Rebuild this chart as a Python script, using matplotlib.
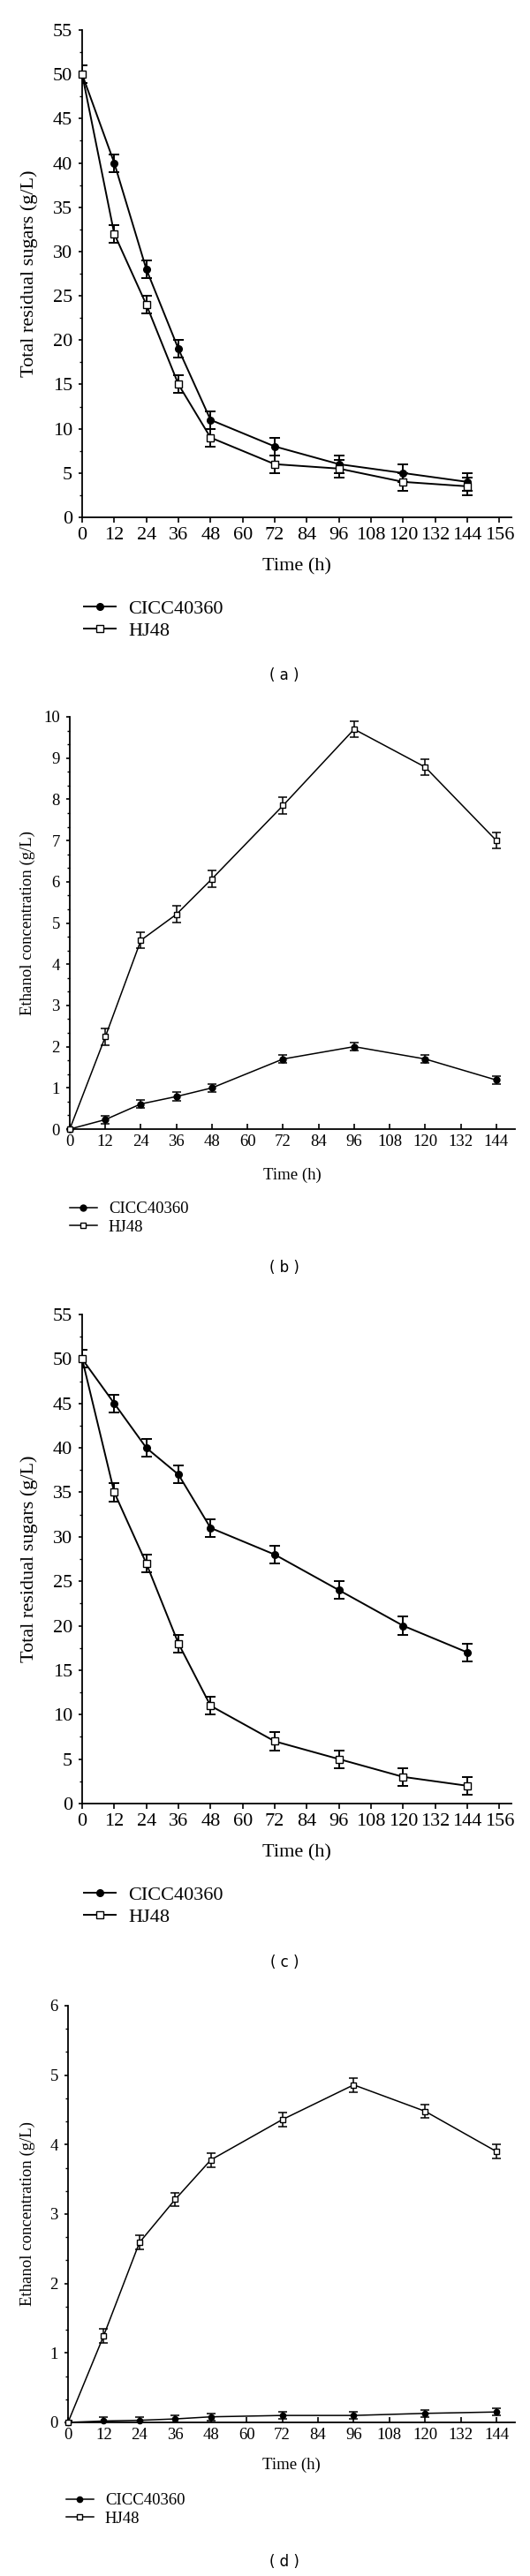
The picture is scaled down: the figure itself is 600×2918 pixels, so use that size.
import matplotlib
matplotlib.use("Agg")
import matplotlib.pyplot as plt
from matplotlib.ticker import MultipleLocator

# sampling times (h)
time_h = [0, 12, 24, 36, 48, 72, 96, 120, 144]

# (a) total residual sugars
sugar_a_cicc = [50, 40, 28, 19, 11, 8, 6, 5, 4]
sugar_a_hj48 = [50, 32, 24, 15, 9, 6, 5.5, 4, 3.5]
sugar_a_err = [1, 1, 1, 1, 1, 1, 1, 1, 1]

# (b) ethanol concentration
eth_b_cicc = [0, 0.23, 0.61, 0.79, 1.0, 1.7, 2.0, 1.7, 1.19]
eth_b_cicc_err = [0.03, 0.1, 0.1, 0.1, 0.1, 0.1, 0.1, 0.1, 0.1]
eth_b_hj48 = [0, 2.24, 4.58, 5.21, 6.07, 7.85, 9.7, 8.78, 7.0]
eth_b_hj48_err = [0.03, 0.2, 0.2, 0.2, 0.2, 0.2, 0.2, 0.2, 0.2]

# (c) total residual sugars
sugar_c_cicc = [50, 45, 40, 37, 31, 28, 24, 20, 17]
sugar_c_hj48 = [50, 35, 27, 18, 11, 7, 5, 3, 2]
sugar_c_err = [1, 1, 1, 1, 1, 1, 1, 1, 1]

# (d) ethanol concentration
eth_d_cicc = [0, 0.02, 0.03, 0.05, 0.08, 0.1, 0.1, 0.13, 0.15]
eth_d_cicc_err = [0.02, 0.05, 0.05, 0.05, 0.05, 0.05, 0.05, 0.05, 0.05]
eth_d_hj48 = [0, 1.25, 2.59, 3.21, 3.78, 4.36, 4.86, 4.48, 3.9]
eth_d_hj48_err = [0.02, 0.1, 0.1, 0.1, 0.1, 0.1, 0.1, 0.1, 0.1]

labels = ["CICC40360", "HJ48"]
panel_tags = ["( a )", "( b )", "( c )", "( d )"]

W, H = 600, 2918
SERIF = "Liberation Serif"
fig = plt.figure(figsize=(W / 100, H / 100), dpi=100)
fig.patch.set_facecolor("white")


def px_axes(left, right, top, bottom):
    return fig.add_axes([left / W, 1 - bottom / H, (right - left) / W, (bottom - top) / H])


def draw_panel(box, y1, y2, e1, e2, ylim, ymaj, ymin, xlim, xmax_tick, ylabel,
               fs, ms, lw, cap, leg_y, leg_x, hl, htp, lsp, xtick_dir, ylab_x, xlab_y):
    left, right, top, bottom = box
    ax = px_axes(left, right, top, bottom)
    ax.errorbar(time_h, y1, yerr=e1, fmt="none", ecolor="black", elinewidth=lw,
                capsize=cap, capthick=lw, zorder=2)
    ax.errorbar(time_h, y2, yerr=e2, fmt="none", ecolor="black", elinewidth=lw,
                capsize=cap, capthick=lw, zorder=2)
    l1, = ax.plot(time_h, y1, "-o", color="black", lw=lw, ms=ms, mfc="black",
                  mec="black", clip_on=False, zorder=3)
    l2, = ax.plot(time_h, y2, "-s", color="black", lw=lw, ms=ms, mfc="white",
                  mec="black", mew=1.0, clip_on=False, zorder=3)
    ax.set_xlim(*xlim)
    ax.set_ylim(*ylim)
    ax.set_xticks(list(range(0, xmax_tick + 1, 12)))
    ax.yaxis.set_major_locator(MultipleLocator(ymaj))
    ax.yaxis.set_minor_locator(MultipleLocator(ymin))
    for s in ["top", "right"]:
        ax.spines[s].set_visible(False)
    for s in ["left", "bottom"]:
        ax.spines[s].set_linewidth(1.3)
    ax.tick_params(axis="y", which="major", direction="out", length=3, width=1.2,
                   labelsize=fs, pad=5)
    ax.tick_params(axis="y", which="minor", direction="out", length=2, width=1.0)
    ax.tick_params(axis="x", which="major", direction=xtick_dir, length=4, width=1.2,
                   labelsize=fs, pad=4)
    for t in ax.get_xticklabels() + ax.get_yticklabels():
        t.set_fontfamily(SERIF)
    ax.set_ylabel(ylabel, fontsize=fs, fontfamily=SERIF, va="center")
    ax.yaxis.set_label_coords((ylab_x - left) / (right - left), 0.5)
    ax.set_xlabel("Time (h)", fontsize=fs, fontfamily=SERIF, va="center")
    ax.xaxis.set_label_coords(0.5, (bottom - xlab_y) / (bottom - top))
    ax.legend([l1, l2], labels, loc="center left",
              bbox_to_anchor=(leg_x / W, 1 - leg_y / H), bbox_transform=fig.transFigure,
              frameon=False, borderpad=0, borderaxespad=0, handlelength=hl,
              handletextpad=htp, labelspacing=lsp, prop={"family": SERIF, "size": fs})
    return ax


draw_panel((93, 579, 34, 586), sugar_a_cicc, sugar_a_hj48, sugar_a_err, sugar_a_err,
           (0, 55), 5, 2.5, (0, 160.5), 156, "Total residual sugars (g/L)",
           16, 5.5, 1.4, 4, 702, 95, 1.62, 0.63, 0.2, "out", 33, 642)

draw_panel((79, 583, 812, 1279), eth_b_cicc, eth_b_hj48, eth_b_cicc_err, eth_b_hj48_err,
           (0, 10), 1, 1 / 3, (0, 150.3), 144, "Ethanol concentration (g/L)",
           13.5, 5, 1.1, 3.5, 1380, 79, 1.65, 0.69, 0.17, "in", 31, 1331)

draw_panel((93, 579, 1489, 2043), sugar_c_cicc, sugar_c_hj48, sugar_c_err, sugar_c_err,
           (0, 55), 5, 2.5, (0, 160.5), 156, "Total residual sugars (g/L)",
           16, 5.5, 1.4, 4, 2159, 95, 1.62, 0.63, 0.2, "out", 33, 2099)

draw_panel((77, 583, 2272, 2744), eth_d_cicc, eth_d_hj48, eth_d_cicc_err, eth_d_hj48_err,
           (0, 6), 1, 1 / 3, (0, 150.2), 144, "Ethanol concentration (g/L)",
           13.5, 4.5, 1.1, 3.5, 2843, 75, 1.65, 0.69, 0.17, "in", 31, 2792)

tag_y = [765, 1436, 2223, 2902]
for tag, ty in zip(panel_tags, tag_y):
    fig.text(322 / W, 1 - ty / H, tag, ha="center", va="center", fontsize=12,
             fontfamily="DejaVu Sans")

fig.savefig("out.png", dpi=100, facecolor="white")
